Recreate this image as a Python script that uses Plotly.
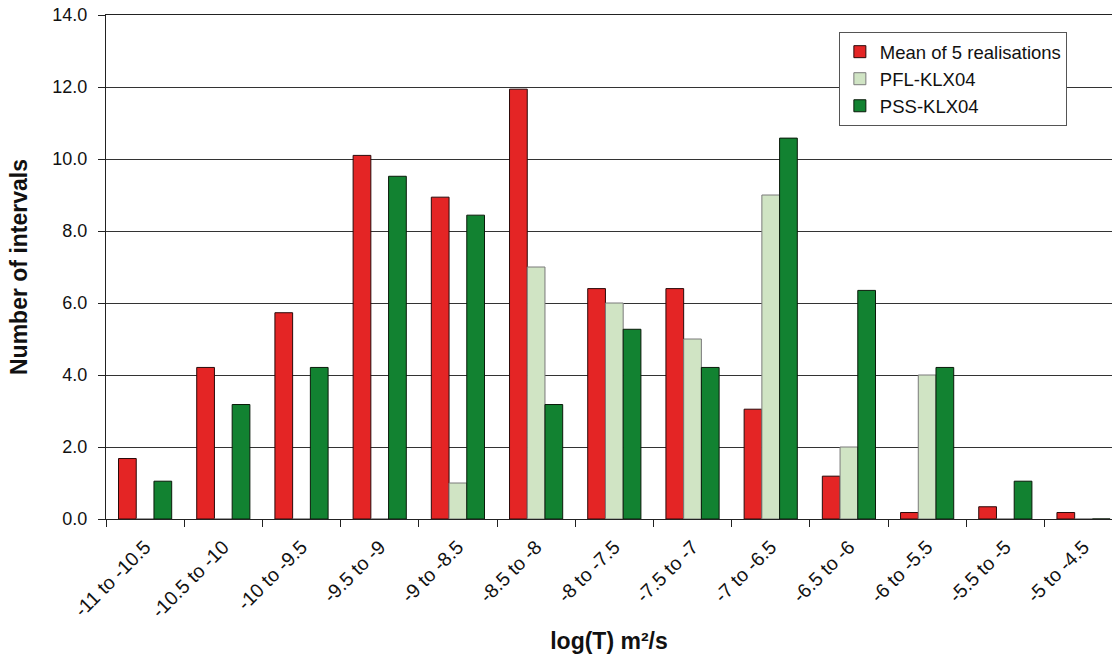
import plotly.graph_objects as go

# Transmissivity classes, log10(T) in m²/s
categories = ["-11 to -10.5", "-10.5 to -10", "-10 to -9.5", "-9.5 to -9",
              "-9 to -8.5", "-8.5 to -8", "-8 to -7.5", "-7.5 to -7",
              "-7 to -6.5", "-6.5 to -6", "-6 to -5.5", "-5.5 to -5",
              "-5 to -4.5"]

mean_realisations = [1.68, 4.21, 5.73, 10.1, 8.94, 11.94, 6.4, 6.4,
                     3.05, 1.19, 0.18, 0.34, 0.18]
pfl_klx04 = [0, 0, 0, 0, 1, 7, 6, 5, 9, 2, 4, 0, 0]
pss_klx04 = [1.05, 3.18, 4.21, 9.52, 8.44, 3.18, 5.27, 4.21, 10.58,
             6.35, 4.21, 1.05, 0]

FONT = "Liberation Sans, Arial, sans-serif"

fig = go.Figure()
fig.add_trace(go.Bar(
    x=categories, y=mean_realisations, name="Mean of 5 realisations",
    marker=dict(color="#E42525", line=dict(color="#2a0a0a", width=1)),
    legendgroup="a",
))
fig.add_trace(go.Bar(
    x=categories, y=pfl_klx04, name="PFL-KLX04",
    marker=dict(color="#D0E4C4", line=dict(color="#7a7a7a", width=1)),
    legendgroup="b",
))
fig.add_trace(go.Bar(
    x=categories, y=pss_klx04, name="PSS-KLX04",
    marker=dict(color="#128231", line=dict(color="#0a1a0a", width=1)),
    legendgroup="c",
))

fig.update_layout(
    width=1112, height=657,
    margin=dict(l=106, r=0, t=15, b=138),
    paper_bgcolor="white", plot_bgcolor="white",
    barmode="group", bargap=0.32, bargroupgap=0,
    font=dict(family=FONT, size=18, color="#111"),
    showlegend=True,
    legend=dict(
        x=0.7285, y=0.966, xanchor="left", yanchor="top",
        bgcolor="white", bordercolor="#555", borderwidth=1,
        font=dict(family=FONT, size=18.5, color="#111"),
        tracegroupgap=2, traceorder="normal",
        itemwidth=30,
    ),
    xaxis=dict(
        type="category",
        range=[-0.5, 12.364],
        showline=True, linecolor="#222", linewidth=1, mirror=True,
        ticks="outside", tickson="boundaries", ticklen=7, tickcolor="#222",
        tickangle=-45,
        ticklabelstandoff=8,
        tickfont=dict(family=FONT, size=19.5, color="#111"),
        showgrid=False,
        title=dict(text="<b>log(T) m²/s</b>",
                   font=dict(family=FONT, size=23, color="#111"),
                   standoff=12),
    ),
    yaxis=dict(
        range=[0, 14], dtick=2, tickformat=".1f",
        showline=True, linecolor="#222", linewidth=1,
        ticks="outside", ticklen=7, tickcolor="#222",
        ticklabelstandoff=7,
        showgrid=True, gridcolor="#333", gridwidth=1,
        zeroline=False,
        tickfont=dict(family=FONT, size=18, color="#111"),
        title=dict(text="<b>Number of intervals</b>",
                   font=dict(family=FONT, size=23, color="#111"),
                   standoff=18),
    ),
)

fig.write_html("out.html")
